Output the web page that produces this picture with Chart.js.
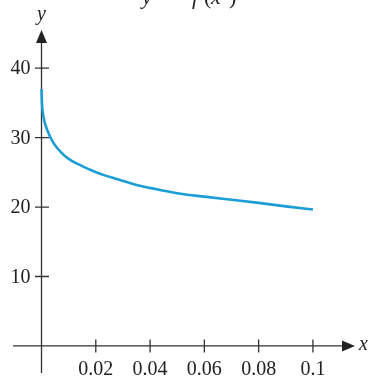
<!DOCTYPE html>
<html>
<head>
<meta charset="utf-8">
<script src="https://cdn.jsdelivr.net/npm/chart.js@4.4.0/dist/chart.umd.min.js"></script>
<style>
    html, body { margin: 0; padding: 0; background: #fff; }
    #wrap { width: 371px; height: 381px; }
</style>
</head>
<body>
<div id="wrap"><canvas id="fChart"></canvas></div>
<script>
var xValues = [0, 0.0002, 0.0006, 0.0014, 0.0024, 0.004, 0.006, 0.0085, 0.011, 0.015, 0.019, 0.023, 0.028, 0.034, 0.042, 0.05, 0.06, 0.07, 0.08, 0.09, 0.1];
var yValues = [37.0, 34.8, 33.3, 31.9, 30.8, 29.5, 28.4, 27.4, 26.7, 25.9, 25.2, 24.6, 24.0, 23.3, 22.6, 22.0, 21.5, 21.05, 20.6, 20.1, 19.65];
var xTicks = [0.02, 0.04, 0.06, 0.08, 0.1];
var xTickLabels = ["0.02", "0.04", "0.06", "0.08", "0.1"];
var yTicks = [10, 20, 30, 40];
var yTickLabels = ["10", "20", "30", "40"];

var points = xValues.map(function (x, i) {
    return { x: x, y: yValues[i] };
});

// hand drawn math-style axes (lines through the origin, arrows, crossing ticks)
const mathAxes = {
    id: "mathAxes",
    beforeDatasetsDraw(chart) {
        const { ctx, chartArea: { left, right, top, bottom }, scales: { x, y } } = chart;
        var ox = x.getPixelForValue(0);
        var oy = y.getPixelForValue(0);
        ctx.save();
        ctx.strokeStyle = "#333";
        ctx.fillStyle = "#222";
        ctx.lineWidth = 1.3;

        ctx.beginPath();
        ctx.moveTo(left, oy);
        ctx.lineTo(right - 10, oy);
        ctx.moveTo(ox, bottom);
        ctx.lineTo(ox, top + 10);
        ctx.stroke();

        // arrow heads
        ctx.beginPath();
        ctx.moveTo(right, oy);
        ctx.lineTo(right - 13, oy - 5.5);
        ctx.lineTo(right - 13, oy + 5.5);
        ctx.closePath();
        ctx.fill();
        ctx.beginPath();
        ctx.moveTo(ox, top);
        ctx.lineTo(ox - 5.5, top + 13);
        ctx.lineTo(ox + 5.5, top + 13);
        ctx.closePath();
        ctx.fill();

        // ticks
        ctx.beginPath();
        xTicks.forEach(function (v) {
            var px = x.getPixelForValue(v);
            ctx.moveTo(px, oy - 6.5);
            ctx.lineTo(px, oy + 6.5);
        });
        yTicks.forEach(function (v) {
            var py = y.getPixelForValue(v);
            ctx.moveTo(ox - 6.5, py);
            ctx.lineTo(ox + 7.5, py);
        });
        ctx.stroke();

        // tick labels
        ctx.fillStyle = "#222";
        ctx.font = "20px 'Liberation Serif'";
        ctx.textAlign = "center";
        ctx.textBaseline = "alphabetic";
        xTicks.forEach(function (v, i) {
            ctx.fillText(xTickLabels[i], x.getPixelForValue(v), oy + 29);
        });
        ctx.textAlign = "right";
        ctx.textBaseline = "middle";
        yTicks.forEach(function (v, i) {
            ctx.fillText(yTickLabels[i], ox - 11, y.getPixelForValue(v) + 1);
        });

        // axis names
        ctx.font = "italic 20px 'Liberation Serif'";
        ctx.textAlign = "left";
        ctx.fillText("x", right + 4, oy - 1);
        ctx.textAlign = "center";
        ctx.fillText("y", ox, top - 15);

        // title, cut off at the top edge
        ctx.textAlign = "left";
        ctx.textBaseline = "alphabetic";
        ctx.font = "italic 22px 'Liberation Serif'";
        ctx.fillText("y", 142, 4);
        ctx.fillText("f", 192, 4);
        ctx.fillText("x", 211, 4);
        ctx.font = "22px 'Liberation Serif'";
        ctx.fillText("=", 166, 4);
        ctx.fillText("(", 204, 4);
        ctx.fillText(")", 229, 4);
        ctx.restore();
    },
};

var ctx = document.getElementById("fChart");
var fChart = new Chart(ctx, {
    type: "scatter",
    data: {
        datasets: [
            {
                label: "y = f(x)",
                data: points,
                showLine: true,
                borderColor: "#1b9ed6",
                borderWidth: 2.6,
                pointRadius: 0,
                cubicInterpolationMode: "monotone",
            },
        ],
    },
    options: {
        responsive: true,
        maintainAspectRatio: false,
        animation: false,
        layout: {
            padding: { left: 13, right: 16, top: 30, bottom: 8 },
        },
        scales: {
            x: { type: "linear", min: -0.0105, max: 0.1155, display: false },
            y: { type: "linear", min: -3.9, max: 45.5, display: false },
        },
        plugins: {
            legend: { display: false },
            tooltip: { enabled: false },
        },
    },
    plugins: [mathAxes],
});
</script>
</body>
</html>
